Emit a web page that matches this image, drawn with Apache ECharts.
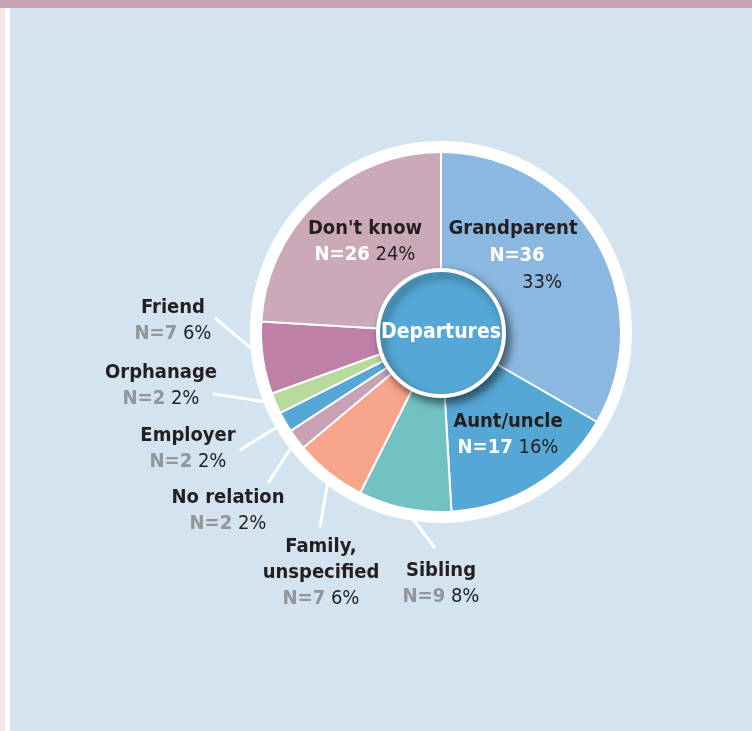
<!DOCTYPE html>
<html>
<head>
<meta charset="utf-8">
<title>Departures</title>
<script src="https://cdn.jsdelivr.net/npm/echarts@6/dist/echarts.min.js"></script>
<style>
    html, body { margin: 0; padding: 0; width: 752px; height: 731px; overflow: hidden; background: #d3e3ef; }
    #topbar { position: absolute; left: 0; top: 0; width: 752px; height: 8px; background: #c9a2b5; }
    #edge { position: absolute; left: 0; top: 8px; width: 5px; height: 723px; background: #f3e4e8; }
    #edge2 { position: absolute; left: 5px; top: 8px; width: 5px; height: 723px; background: #ffffff; }
    #chart { position: absolute; left: 0; top: 0; width: 752px; height: 731px; }
</style>
</head>
<body>
<div id="topbar"></div>
<div id="edge"></div>
<div id="edge2"></div>
<div id="chart"></div>
<script>
// data, clockwise from 12 o'clock
const categories = ['Grandparent', 'Aunt/uncle', 'Sibling', 'Family, unspecified', 'No relation',
    'Employer', 'Orphanage', 'Friend', "Don't know"];
const counts = [36, 17, 9, 7, 2, 2, 2, 7, 26];
const colors = ['#8bb8e0', '#55a8d5', '#72c2c3', '#f7a58c', '#c9a1b5', '#55a8d5', '#b6da9c', '#be80a7', '#cba9b9'];
const centreText = 'Departures';

// label placement (px), null line end = label sits inside the slice
const labelAt = [[513, 256], [508, 435], [441, 584], [321, 573], [228, 511], [188, 449], [161, 386], [173, 321], [365, 242]];
const lineEnd = [null, null, [435, 548], [320, 527], [268, 483], [240, 450], [213, 394], [215, 318], null];

const total = counts.reduce((a, b) => a + b, 0);
const font = '"Liberation Sans Narrow", "DejaVu Sans Condensed", "Arial Narrow", sans-serif';
const dark = '#231f20';
const fs = 20;

const chart = echarts.init(document.getElementById('chart'), null, { renderer: 'canvas' });

function labelText(p) {
    const i = p.dataIndex;
    const pct = Math.round(counts[i] / total * 100) + '%';
    const name = categories[i].replace(', ', ',\n');
    const n = 'N=' + counts[i];
    if (i === 0) {
        return '{b|' + name + '}\n{nw0|' + n + '}\n{p0|' + pct + '}';
    }
    const nStyle = lineEnd[i] === null ? 'nw' : 'ng';
    return '{b|' + name + '}\n{' + nStyle + '|' + n + '} {p|' + pct + '}';
}

const option = {
    animation: false,
    backgroundColor: 'transparent',
    series: [
        {
            // white rim behind the pie
            type: 'pie',
            silent: true,
            z: 1,
            center: [441, 332],
            radius: [0, 191],
            label: { show: false },
            labelLine: { show: false },
            data: [{ value: 1, itemStyle: { color: '#ffffff' } }]
        },
        {
            type: 'pie',
            z: 2,
            center: [441, 332],
            radius: [40, 180],
            startAngle: 90,
            clockwise: true,
            avoidLabelOverlap: false,
            emphasis: { disabled: true },
            itemStyle: { borderColor: '#ffffff', borderWidth: 2 },
            label: {
                show: true,
                position: 'outside',
                fontFamily: font,
                fontSize: fs,
                lineHeight: 26,
                color: dark,
                formatter: labelText,
                rich: {
                    b: { fontFamily: font, fontSize: fs, fontWeight: 'bold', color: dark, lineHeight: 26 },
                    nw: { fontFamily: font, fontSize: fs, fontWeight: 'bold', color: '#ffffff', lineHeight: 26 },
                    ng: { fontFamily: font, fontSize: fs, fontWeight: 'bold', color: '#939598', lineHeight: 26 },
                    p: { fontFamily: font, fontSize: fs, color: dark, lineHeight: 26 },
                    nw0: { fontFamily: font, fontSize: fs, fontWeight: 'bold', color: '#ffffff', lineHeight: 27, padding: [0, 0, 0, 8] },
                    p0: { fontFamily: font, fontSize: fs, color: dark, lineHeight: 27, padding: [0, 0, 0, 58] }
                }
            },
            labelLine: { show: true, lineStyle: { color: '#ffffff', width: 3 } },
            labelLayout: function (p) {
                const i = p.dataIndex;
                const out = { x: labelAt[i][0], y: labelAt[i][1], align: 'center', verticalAlign: 'middle' };
                if (lineEnd[i] && p.labelLinePoints) {
                    out.labelLinePoints = [p.labelLinePoints[0], lineEnd[i]];
                }
                return out;
            },
            data: categories.map((c, i) => ({
                name: c,
                value: counts[i],
                itemStyle: { color: colors[i] },
                labelLine: { show: lineEnd[i] !== null }
            }))
        },
        {
            // centre disc
            type: 'pie',
            silent: true,
            z: 3,
            center: [441, 333],
            radius: [0, 63],
            itemStyle: {
                color: '#55a8d5',
                borderColor: '#ffffff',
                borderWidth: 4,
                shadowBlur: 8,
                shadowOffsetX: 4,
                shadowOffsetY: 5,
                shadowColor: 'rgba(0, 0, 0, 0.5)'
            },
            label: {
                show: true,
                position: 'center',
                formatter: centreText,
                fontFamily: font,
                fontSize: 21,
                fontWeight: 'bold',
                color: '#ffffff'
            },
            labelLine: { show: false },
            data: [{ value: 1, name: centreText }]
        }
    ]
};

chart.setOption(option);

window.addEventListener('resize', () => chart.resize(), { passive: true });
</script>
</body>
</html>
